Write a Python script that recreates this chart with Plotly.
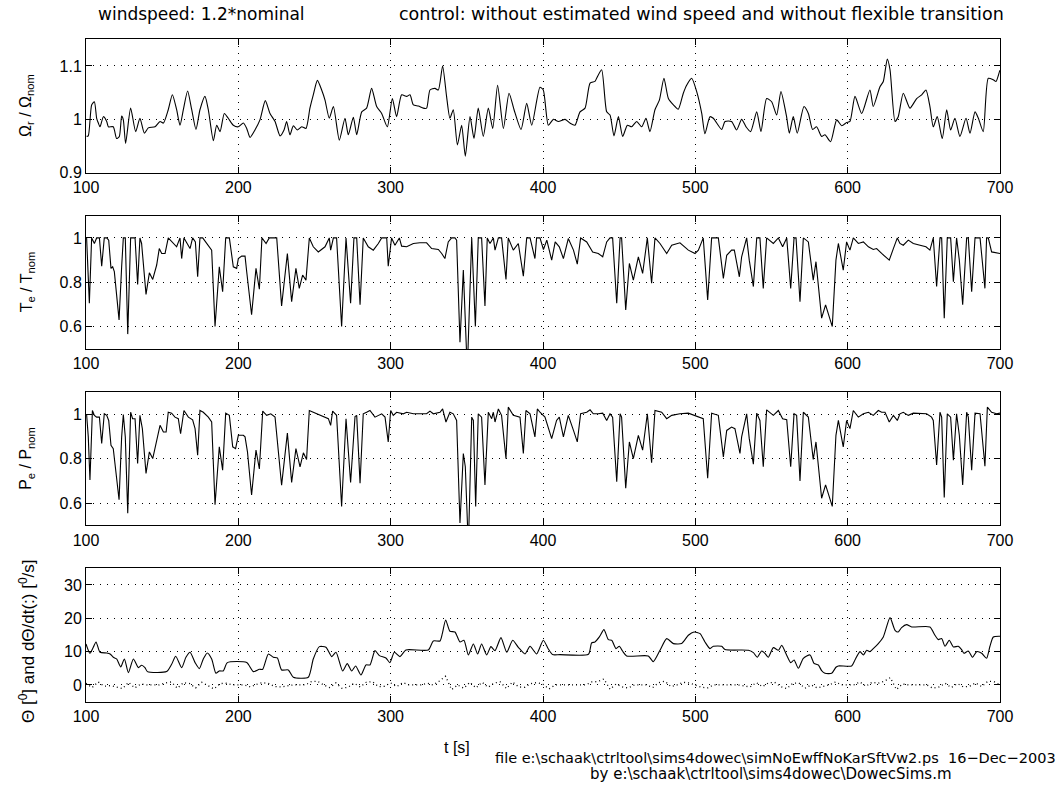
import numpy as np
import plotly.graph_objects as go

# ---------------------------------------------------------------- data
time_ticks = [100, 200, 300, 400, 500, 600, 700]

# rotor speed  Omega_r / Omega_nom
t_omega = [100.4, 101.5, 103.7, 105.5, 107.0, 108.1, 109.2, 111.4, 113.6, 114.7, 117.9, 120.1,
           121.9, 123.4, 124.5, 126.0, 129.3, 132.6, 135.4, 138.3, 140.9, 145.3, 148.6, 150.8,
           154.0, 156.7, 159.5, 161.7, 163.9, 166.7, 169.4, 172.2, 174.8, 178.1, 180.3, 183.6,
           185.8, 188.0, 190.8, 193.4, 196.7, 200.0, 203.3, 205.5, 207.7, 210.9, 214.2, 217.7,
           220.8, 224.1, 227.4, 230.0, 231.7, 233.9, 236.1, 238.7, 241.6, 244.4, 247.0, 249.2,
           251.9, 254.7, 256.9, 259.7, 262.4, 266.3, 270.0, 272.2, 275.5, 277.7, 281.0, 284.2,
           287.5, 290.8, 294.1, 297.8, 301.1, 303.9, 307.2, 310.5, 312.7, 314.9, 318.2, 321.4,
           323.6, 325.8, 329.1, 331.3, 334.1, 336.7, 338.9, 341.1, 343.8, 346.6, 349.0, 352.1,
           354.7, 357.5, 360.8, 364.1, 367.0, 370.2, 374.0, 377.7, 381.0, 385.6, 389.3, 392.6,
           398.0, 400.2, 403.5, 406.8, 410.1, 414.5, 417.7, 421.0, 424.3, 427.6, 430.9, 434.1,
           435.2, 438.5, 441.8, 444.0, 446.6, 449.5, 452.3, 455.4, 458.2, 461.5, 464.8, 467.6,
           470.2, 473.5, 476.4, 479.4, 482.3, 485.6, 488.8, 492.1, 494.3, 497.6, 500.9, 504.2,
           506.3, 509.6, 511.8, 517.3, 519.5, 523.8, 527.1, 530.4, 533.3, 536.3, 540.3, 543.1,
           546.8, 550.1, 553.4, 556.2, 559.9, 561.7, 564.3, 566.9, 571.3, 574.2, 577.0, 579.6,
           582.9, 585.1, 588.8, 592.8, 596.1, 599.3, 601.5, 604.8, 609.2, 614.6, 616.8, 621.2,
           623.4, 626.0, 627.8, 631.1, 633.2, 636.5, 640.9, 645.3, 648.6, 651.4, 654.0, 656.2,
           658.8, 662.1, 665.0, 667.6, 670.4, 673.7, 677.7, 680.3, 683.6, 685.8, 689.0, 692.3,
           695.6, 697.4, 699.6, 700.0]
omega_r = [0.968, 0.969, 1.027, 1.033, 1.002, 0.993, 0.986, 1.005, 0.996, 0.986, 0.986, 0.964,
           0.968, 1.006, 0.999, 0.955, 1.021, 0.977, 1.002, 0.974, 0.984, 0.986, 0.996, 0.993,
           1.018, 1.046, 1.018, 0.989, 1.018, 1.053, 1.018, 0.981, 1.018, 1.043, 1.018, 0.960,
           0.989, 0.977, 1.011, 1.002, 0.989, 0.986, 0.993, 0.983, 0.966, 0.980, 0.999, 1.035,
           1.011, 0.996, 0.969, 0.980, 0.996, 0.971, 0.988, 0.980, 0.986, 0.983, 1.021, 1.046,
           1.073, 1.055, 1.036, 1.002, 1.024, 0.961, 1.002, 0.971, 1.004, 0.971, 1.014, 1.021,
           1.058, 1.024, 1.011, 0.986, 1.039, 1.005, 1.046, 1.043, 1.046, 1.027, 1.025, 1.021,
           1.021, 1.055, 1.058, 1.055, 1.100, 1.043, 1.002, 1.018, 0.952, 0.989, 0.931, 1.005,
           0.964, 1.021, 0.968, 1.021, 0.983, 1.064, 0.983, 1.049, 1.018, 0.981, 1.030, 0.989,
           1.060, 1.055, 0.989, 1.000, 0.996, 1.000, 0.993, 0.989, 1.014, 1.021, 1.068, 1.071,
           1.077, 1.093, 1.014, 1.008, 0.969, 1.005, 0.968, 0.989, 0.986, 0.996, 0.986, 1.002,
           0.977, 1.018, 1.036, 1.077, 1.039, 1.027, 1.019, 1.049, 1.064, 1.077, 1.052, 1.011,
           0.973, 1.005, 1.002, 0.981, 0.996, 0.996, 0.980, 1.000, 0.986, 0.977, 1.014, 0.977,
           1.039, 1.033, 1.008, 1.052, 1.005, 0.974, 1.005, 0.974, 1.024, 1.011, 0.981, 0.986,
           0.968, 0.971, 0.958, 0.999, 0.988, 0.994, 0.996, 1.043, 1.011, 1.055, 1.024, 1.061,
           1.071, 1.113, 1.093, 0.996, 1.005, 1.049, 1.021, 1.039, 1.046, 1.055, 1.024, 0.986,
           1.005, 0.964, 1.018, 0.980, 1.002, 0.968, 1.002, 0.974, 1.014, 1.002, 0.977, 1.077,
           1.074, 1.071, 1.089, 1.092]

# generator torque  T_e / T_nom
t_torque = [100.4, 102.2, 103.7, 105.5, 107.0, 108.8, 110.3, 112.0, 113.6, 114.9, 116.4, 117.5,
            118.6, 121.7, 123.4, 124.5, 125.8, 127.4, 129.3, 130.6, 132.2, 133.9, 135.4, 136.5,
            139.4, 141.6, 143.8, 146.4, 148.1, 149.7, 151.9, 154.0, 157.3, 159.5, 161.7, 162.8,
            164.3, 168.3, 170.0, 171.8, 173.3, 174.8, 176.6, 179.2, 182.5, 184.7, 187.5, 189.7,
            191.7, 194.1, 196.7, 198.9, 200.0, 202.2, 204.4, 205.5, 208.7, 211.6, 213.8, 215.5,
            218.2, 220.3, 225.2, 228.4, 232.2, 235.0, 237.8, 240.0, 242.2, 244.4, 246.6, 249.2,
            252.5, 256.9, 259.7, 260.6, 262.4, 264.5, 267.8, 270.7, 273.7, 275.9, 277.7, 279.9,
            282.0, 285.3, 288.6, 291.9, 294.1, 297.4, 298.4, 300.6, 302.8, 305.7, 307.2, 310.5,
            314.9, 319.2, 323.6, 326.9, 331.3, 333.5, 335.6, 337.8, 340.0, 342.2, 343.3, 345.5,
            347.7, 350.3, 353.2, 355.6, 357.5, 359.7, 361.9, 363.4, 365.2, 367.4, 368.5, 370.7,
            372.8, 375.7, 377.2, 380.5, 383.8, 387.1, 389.3, 391.5, 394.7, 395.8, 398.0, 400.3,
            402.5, 405.7, 408.0, 410.7, 413.4, 416.6, 420.0, 422.5, 424.7, 428.7, 432.6, 436.3,
            439.2, 441.8, 444.0, 445.7, 448.4, 450.6, 451.6, 454.3, 456.7, 459.3, 462.6, 465.4,
            468.5, 471.3, 473.5, 476.8, 481.2, 484.5, 489.9, 495.4, 499.8, 502.0, 505.2, 508.1,
            510.7, 515.1, 518.4, 520.6, 523.8, 525.6, 528.9, 530.4, 533.7, 535.4, 538.1, 540.3,
            542.4, 544.6, 546.8, 551.2, 554.5, 557.3, 560.0, 562.6, 564.8, 566.1, 568.7, 570.9,
            574.2, 577.4, 579.2, 582.9, 585.5, 589.9, 592.3, 593.9, 597.1, 599.3, 601.5, 603.7,
            607.0, 610.3, 613.6, 616.8, 619.0, 622.3, 624.5, 627.3, 630.0, 632.6, 634.3, 636.5,
            639.8, 643.1, 647.5, 651.4, 654.0, 656.2, 658.4, 660.6, 661.7, 663.4, 665.4, 667.6,
            669.4, 671.5, 673.3, 675.5, 678.1, 679.2, 681.4, 683.6, 686.9, 690.1, 691.2, 692.3,
            694.5, 698.9, 700.0]
torque_e = [1.000, 0.706, 1.000, 0.975, 1.000, 1.000, 0.873, 1.000, 1.000, 0.990, 0.863, 0.870,
            0.848, 0.631, 0.870, 1.000, 1.000, 0.567, 1.000, 1.000, 1.000, 0.791, 1.000, 0.975,
            0.746, 0.843, 0.813, 0.878, 0.952, 0.930, 0.930, 1.000, 0.975, 0.960, 1.000, 0.907,
            1.000, 0.952, 1.000, 0.982, 0.825, 1.000, 1.000, 0.975, 0.945, 0.601, 0.870, 0.758,
            1.000, 1.000, 0.870, 0.863, 0.907, 0.918, 0.918, 0.848, 0.654, 0.863, 0.769, 1.000,
            0.975, 1.000, 1.000, 0.694, 0.930, 0.713, 0.863, 0.773, 0.833, 0.810, 1.000, 0.960,
            0.937, 0.960, 1.000, 0.945, 1.000, 1.000, 0.601, 1.000, 0.706, 1.000, 1.000, 0.699,
            1.000, 0.960, 0.945, 0.975, 1.000, 1.000, 0.873, 1.000, 0.967, 1.000, 0.963, 0.960,
            0.975, 0.978, 0.978, 0.952, 0.948, 0.930, 0.907, 0.982, 1.000, 1.000, 0.990, 0.530,
            0.855, 0.400, 1.000, 0.601, 1.000, 1.000, 0.694, 1.000, 0.975, 1.000, 0.945, 1.000,
            1.000, 0.813, 1.000, 0.945, 0.975, 0.828, 1.000, 1.000, 0.907, 1.000, 1.000, 0.948,
            0.990, 0.900, 0.982, 0.960, 0.907, 0.997, 0.945, 0.882, 1.000, 0.982, 0.937, 0.930,
            0.915, 0.982, 1.000, 1.000, 0.706, 1.000, 1.000, 0.676, 0.885, 0.810, 0.915, 0.840,
            1.000, 0.796, 1.000, 0.975, 0.930, 0.967, 0.978, 0.945, 0.930, 0.945, 1.000, 0.721,
            1.000, 1.000, 0.818, 0.922, 0.945, 0.945, 0.825, 0.915, 1.000, 0.900, 0.781, 1.000,
            1.000, 0.773, 1.000, 0.975, 1.000, 0.960, 1.000, 0.773, 1.000, 1.000, 0.713, 1.000,
            0.982, 0.810, 0.893, 0.639, 0.699, 0.601, 0.900, 0.975, 0.855, 0.982, 0.945, 1.000,
            0.975, 0.982, 0.960, 0.948, 0.952, 0.930, 0.915, 0.900, 0.952, 1.000, 0.975, 0.967,
            0.990, 0.975, 0.967, 0.960, 0.945, 1.000, 0.781, 1.000, 1.000, 0.639, 1.000, 1.000,
            0.803, 1.000, 0.900, 0.699, 1.000, 1.000, 0.758, 1.000, 1.000, 0.773, 1.000, 1.000,
            0.937, 0.930, 0.930]

# electrical power  P_e / P_nom
t_power = [100.4, 101.5, 102.6, 104.2, 105.5, 107.0, 108.8, 110.3, 112.0, 113.6, 114.9, 116.4,
           117.9, 119.5, 121.7, 123.4, 124.5, 125.8, 127.4, 129.3, 130.6, 132.2, 133.9, 135.4,
           137.0, 139.4, 141.6, 143.8, 146.4, 148.6, 150.8, 152.6, 154.0, 156.2, 158.4, 160.6,
           162.1, 164.3, 167.2, 170.0, 171.6, 173.3, 174.8, 177.0, 180.3, 182.5, 184.7, 187.5,
           189.7, 191.7, 194.1, 196.3, 198.2, 200.0, 203.3, 204.4, 206.0, 208.7, 211.6, 213.8,
           216.0, 218.6, 221.3, 224.1, 228.4, 232.2, 235.0, 237.8, 240.5, 242.7, 244.8, 246.6,
           249.2, 252.5, 255.8, 259.1, 260.6, 261.9, 264.5, 267.8, 270.7, 273.7, 276.6, 277.7,
           279.9, 282.0, 284.2, 286.4, 289.7, 291.9, 294.1, 296.3, 298.4, 300.0, 301.7, 303.9,
           306.1, 308.3, 310.5, 314.9, 319.2, 323.6, 325.8, 328.0, 332.4, 334.1, 336.3, 338.9,
           341.1, 343.3, 345.5, 347.7, 349.0, 351.0, 353.2, 354.3, 355.8, 357.5, 359.7, 361.9,
           364.1, 366.3, 367.4, 368.5, 370.7, 372.8, 375.7, 377.2, 380.5, 384.9, 387.1, 388.8,
           391.5, 394.7, 396.3, 398.0, 401.3, 405.7, 408.9, 410.7, 413.4, 416.6, 420.0, 422.5,
           424.7, 428.7, 430.9, 433.0, 436.3, 439.2, 441.8, 444.0, 445.7, 448.4, 450.6, 451.6,
           454.3, 456.7, 459.3, 462.6, 465.4, 468.5, 471.3, 473.5, 477.9, 481.2, 484.5, 489.9,
           495.4, 499.8, 505.2, 508.1, 510.7, 515.1, 518.4, 520.6, 523.8, 526.0, 529.3, 530.4,
           533.7, 535.4, 538.1, 540.3, 542.4, 544.6, 546.8, 551.2, 554.5, 557.3, 560.0, 562.6,
           564.8, 566.5, 568.7, 570.9, 574.2, 577.4, 579.2, 582.9, 585.5, 589.9, 592.3, 593.9,
           597.1, 599.3, 601.5, 603.7, 607.0, 610.3, 613.6, 616.8, 620.1, 622.3, 624.5, 627.3,
           630.0, 632.6, 634.3, 636.5, 639.8, 643.1, 647.5, 651.8, 655.1, 656.2, 658.4, 660.6,
           661.7, 663.4, 665.4, 667.6, 669.4, 671.5, 673.3, 675.5, 678.1, 679.2, 681.4, 683.6,
           686.9, 690.1, 691.7, 694.5, 697.8, 699.6, 700.0]
power_e = [1.000, 0.899, 0.704, 1.018, 0.996, 0.988, 0.988, 0.869, 1.003, 0.996, 0.973, 0.861,
           0.846, 0.749, 0.615, 0.899, 1.000, 0.899, 0.555, 1.010, 0.981, 0.981, 0.779, 0.996,
           0.936, 0.734, 0.831, 0.801, 0.876, 0.951, 0.921, 0.921, 1.010, 1.006, 0.988, 0.981,
           0.913, 1.018, 0.988, 0.976, 0.936, 0.816, 1.018, 1.010, 0.988, 0.966, 0.593, 0.854,
           0.749, 1.006, 0.996, 0.854, 0.846, 0.906, 0.906, 0.899, 0.831, 0.637, 0.839, 0.754,
           1.015, 0.996, 1.003, 0.988, 0.681, 0.916, 0.693, 0.846, 0.764, 0.827, 0.797, 1.018,
           1.010, 1.000, 0.991, 0.981, 0.951, 1.015, 0.996, 0.585, 0.981, 0.693, 0.991, 0.996,
           0.690, 1.003, 1.010, 1.018, 0.988, 0.996, 1.003, 0.988, 0.876, 1.018, 0.996, 1.010,
           1.006, 1.003, 1.010, 1.003, 1.003, 1.003, 1.015, 1.003, 1.010, 1.025, 0.966, 1.010,
           1.003, 0.973, 0.510, 0.824, 0.764, 0.400, 0.988, 0.973, 0.585, 1.003, 0.988, 0.682,
           1.010, 0.981, 1.010, 0.966, 1.025, 0.996, 0.800, 1.033, 0.996, 0.988, 0.824, 1.018,
           1.003, 0.899, 1.025, 1.010, 0.988, 0.891, 0.973, 0.988, 0.899, 0.996, 0.928, 0.876,
           1.003, 1.010, 1.021, 1.003, 1.003, 1.006, 0.973, 1.003, 0.988, 0.697, 1.003, 0.988,
           0.667, 0.876, 0.801, 0.906, 0.839, 1.003, 0.782, 1.018, 1.010, 0.981, 0.996, 1.003,
           1.006, 0.996, 0.981, 0.712, 1.006, 0.996, 0.809, 0.928, 0.943, 0.936, 0.824, 0.899,
           1.003, 0.891, 0.776, 1.006, 0.973, 0.764, 1.021, 0.996, 1.018, 0.981, 0.976, 0.764,
           1.003, 0.996, 0.700, 1.010, 0.988, 0.797, 0.876, 0.622, 0.682, 0.585, 0.906, 0.973,
           0.854, 0.973, 0.936, 1.018, 0.988, 1.003, 1.010, 0.996, 1.018, 1.010, 1.010, 0.966,
           0.996, 0.973, 1.003, 1.010, 0.996, 1.006, 1.006, 1.003, 0.988, 0.973, 0.772, 1.010,
           0.988, 0.625, 1.003, 0.988, 0.794, 1.003, 0.906, 0.682, 1.010, 0.988, 0.749, 1.006,
           1.003, 0.767, 1.033, 1.010, 1.003, 1.006, 1.006]

# pitch angle  Theta [deg]
t_pitch = [100.0, 102.6, 104.8, 106.6, 109.2, 113.6, 115.8, 117.9, 120.1, 122.8, 125.2, 127.8,
           131.1, 134.4, 136.5, 138.7, 140.3, 152.9, 156.2, 158.9, 162.8, 165.6, 168.3, 171.6,
           174.4, 177.0, 179.6, 182.5, 185.3, 187.5, 190.1, 192.8, 205.5, 209.8, 213.8, 216.0,
           219.7, 223.0, 225.6, 228.4, 232.8, 236.1, 245.9, 249.2, 253.2, 257.5, 261.3, 264.1,
           268.5, 271.5, 274.4, 277.0, 280.5, 283.8, 286.4, 289.7, 292.6, 296.9, 299.5, 302.4,
           306.1, 310.0, 324.7, 328.0, 332.4, 333.9, 336.1, 338.9, 342.2, 345.5, 348.1, 351.0,
           354.3, 357.1, 359.7, 363.0, 365.8, 368.5, 372.4, 376.2, 380.1, 383.8, 388.2, 391.5,
           395.8, 400.2, 403.5, 406.3, 411.1, 429.8, 431.9, 434.1, 437.0, 440.0, 442.9, 445.1,
           447.9, 450.1, 452.3, 454.9, 469.1, 472.4, 476.8, 481.2, 485.6, 491.0, 495.4, 499.1,
           503.1, 506.3, 509.6, 511.8, 517.3, 519.5, 534.8, 538.1, 540.7, 543.5, 545.7, 547.9,
           551.2, 554.5, 556.7, 559.9, 562.6, 564.8, 567.6, 570.9, 575.3, 577.9, 580.7, 582.9,
           585.1, 589.5, 592.3, 593.9, 602.6, 604.8, 608.1, 610.3, 612.5, 614.6, 616.8, 620.1,
           623.4, 627.8, 631.1, 633.2, 635.4, 638.7, 642.0, 654.0, 657.3, 659.5, 661.7, 663.9,
           666.7, 669.4, 672.6, 674.8, 676.3, 679.2, 682.0, 684.7, 688.0, 691.2, 693.4, 695.6,
           699.6, 700.0]
pitch = [12.3, 9.5, 11.3, 12.9, 9.8, 9.6, 9.3, 8.3, 7.8, 5.4, 7.8, 3.7,
         7.8, 5.2, 5.9, 5.2, 4.0, 4.0, 6.2, 8.6, 5.2, 8.3, 9.8, 6.7,
         4.9, 7.8, 9.6, 7.8, 3.5, 4.2, 4.2, 6.7, 6.7, 4.0, 4.7, 4.7,
         9.3, 8.3, 8.1, 4.5, 4.5, 2.3, 2.3, 7.8, 11.5, 11.3, 8.5, 9.8,
         4.2, 6.4, 4.2, 5.7, 3.0, 6.0, 6.0, 10.3, 8.8, 8.1, 6.7, 9.8,
         8.5, 10.5, 10.5, 13.2, 13.2, 15.4, 19.5, 16.1, 15.9, 12.9, 13.4, 9.0,
         12.3, 9.3, 12.3, 9.0, 11.5, 10.3, 14.2, 9.8, 13.4, 11.3, 9.3, 11.6,
         9.3, 13.4, 10.8, 9.1, 9.1, 9.2, 12.6, 12.9, 14.4, 16.6, 13.6, 13.4,
         10.9, 11.6, 10.1, 8.7, 8.7, 7.0, 10.4, 13.9, 12.4, 12.4, 14.9, 15.9,
         15.4, 12.9, 10.9, 11.6, 11.6, 10.6, 10.4, 9.7, 8.3, 10.2, 9.5, 8.3,
         11.2, 10.4, 11.9, 9.0, 6.7, 7.5, 5.0, 8.0, 9.0, 6.5, 6.0, 4.3,
         3.5, 3.5, 5.3, 5.7, 5.7, 7.5, 10.0, 9.0, 10.4, 10.0, 10.9, 12.4,
         14.4, 20.2, 16.4, 15.9, 17.2, 18.1, 17.4, 17.4, 14.9, 13.6, 13.9, 11.6,
         13.4, 11.4, 11.6, 10.6, 9.5, 10.2, 8.3, 10.0, 9.5, 8.0, 11.6, 14.4,
         14.6, 14.6]

# pitch rate  dTheta/dt [deg/s], sampled every 4 s from 100 s to 700 s
t_rate = list(range(100, 701, 4))
pitch_rate = [0.5, -0.8, 0.9, -0.4, -0.2, -0.6, -1.1, 0.8, -0.9, 0.3,
              0.0, 0.0, 0.0, 0.6, 0.9, -1.0, 0.7, 0.4, -0.9, 0.8,
              -0.3, -1.2, 0.4, 0.5, 0.0, 0.0, 0.0, -0.6, 0.2, 0.7,
              0.4, -0.5, -0.6, -0.3, 0.0, 0.0, 0.0, 1.0, 1.1, 0.0,
              -0.8, 0.6, -1.0, -0.7, 0.5, -0.6, 0.8, 1.0, -0.5, -0.4,
              0.6, -0.5, 0.7, 0.0, 0.0, 0.0, 0.5, 0.0, 1.2, 2.6,
              -1.4, 0.0, -1.0, 0.8, -0.9, 0.8, -0.7, 0.6, 0.9, -1.1,
              0.9, -0.6, -0.7, 0.4, 0.7, 0.2, -1.2, 0.0, 0.0, 0.0,
              0.0, 0.0, 0.0, 0.9, 1.0, 1.8, -1.3, 0.3, -0.6, -0.9,
              0.0, 0.0, 0.0, -0.8, 0.7, 1.1, -0.5, 0.0, 0.8, 0.6,
              0.0, -0.7, -0.9, 0.0, 0.0, 0.0, 0.0, 0.0, -0.3, -0.6,
              0.7, -0.5, 0.6, 0.8, -0.5, -1.1, 0.5, 0.6, -1.0, 0.0,
              -0.9, -0.5, 0.0, 0.9, 0.0, 0.0, 0.0, 0.9, -0.4, 0.8,
              0.5, 1.1, 2.2, -1.4, 0.3, 0.0, 0.0, 0.0, 0.0, -1.0,
              -0.6, 0.5, -0.8, 0.4, -0.6, -0.4, 0.6, -0.5, 1.1, 1.0,
              0.0]
assert len(t_rate) == len(pitch_rate)

y_ranges = [[0.9, 1.15], [0.5, 1.1], [0.5, 1.1], [-5, 35]]
y_ticks = [[0.9, 1.0, 1.1], [0.6, 0.8, 1.0], [0.6, 0.8, 1.0], [0, 10, 20, 30]]
y_ticktext = [["0.9", "1", "1.1"], ["0.6", "0.8", "1"], ["0.6", "0.8", "1"],
              ["0", "10", "20", "30"]]
y_titles = ["Ω<sub>r</sub> / Ω<sub>nom</sub>",
            "T<sub>e</sub> / T<sub>nom</sub>",
            "P<sub>e</sub> / P<sub>nom</sub>",
            "Θ [<sup>0</sup>] and dΘ/dt(:) [<sup>0</sup>/s]"]

# ---------------------------------------------------------------- layout
W, H = 1061, 787
FONT = "Liberation Sans, Arial, Helvetica, sans-serif"
WIDE = "DejaVu Sans, Verdana, sans-serif"
panel_px = [(39.3, 172.7), (215.7, 349.0), (392.3, 525.3), (568.3, 701.6)]
x_px = (86, 1000)


def px(x):
    return x / W


def py(y):
    return 1 - y / H


fig = go.Figure()
smooth = dict(color="black", width=1.1, shape="spline", smoothing=0.6)
sharp = dict(color="black", width=1.1)
series = [(t_omega, omega_r, smooth), (t_torque, torque_e, sharp),
          (t_power, power_e, sharp), (t_pitch, pitch, smooth)]
for i, (tx, vy, ln) in enumerate(series):
    sfx = "" if i == 0 else str(i + 1)
    fig.add_trace(go.Scatter(x=tx, y=vy, mode="lines", line=ln,
                             xaxis="x" + sfx, yaxis="y" + sfx, showlegend=False,
                             hoverinfo="skip"))
fig.add_trace(go.Scatter(x=t_rate, y=pitch_rate, mode="lines",
                         line=dict(color="black", width=1.3, dash="1px,3px"),
                         xaxis="x4", yaxis="y4", showlegend=False, hoverinfo="skip"))

axis_common = dict(showline=True, linecolor="black", linewidth=1, mirror="ticks",
                   ticks="inside", ticklen=6, tickcolor="black", tickwidth=1,
                   showgrid=True, gridcolor="black", gridwidth=1, griddash="1px,6px",
                   zeroline=False, automargin=False,
                   tickfont=dict(family=FONT, size=16, color="black"))

for i in range(4):
    sfx = "" if i == 0 else str(i + 1)
    top, bot = panel_px[i]
    fig.layout["xaxis" + sfx] = dict(axis_common, domain=[px(x_px[0]), px(x_px[1])],
                                     range=[100, 700], tickvals=time_ticks,
                                     anchor="y" + sfx)
    fig.layout["yaxis" + sfx] = dict(axis_common, domain=[py(bot), py(top)],
                                     range=y_ranges[i], tickvals=y_ticks[i],
                                     ticktext=y_ticktext[i], anchor="x" + sfx)

annotations = []
for i in range(4):
    top, bot = panel_px[i]
    cy = (top + bot) / 2 + (7 if i == 3 else 0)
    annotations.append(dict(text=y_titles[i], x=px(27), y=py(cy), xref="paper", yref="paper",
                            textangle=-90, showarrow=False, xanchor="center", yanchor="middle",
                            font=dict(family=FONT, size=17 if i == 3 else 16, color="black")))

annotations += [
    dict(text="windspeed: 1.2*nominal", x=px(96), y=py(14), xanchor="left", yanchor="middle",
         xref="paper", yref="paper", showarrow=False,
         font=dict(family=WIDE, size=17, color="black")),
    dict(text="control: without estimated wind speed and without flexible transition",
         x=px(1006), y=py(14), xanchor="right", yanchor="middle",
         xref="paper", yref="paper", showarrow=False,
         font=dict(family=WIDE, size=17.5, color="black")),
    dict(text="t [s]", x=px(457), y=py(747), xanchor="center", yanchor="middle",
         xref="paper", yref="paper", showarrow=False,
         font=dict(family=FONT, size=16, color="black")),
    dict(text=r"file e:\schaak\ctrltool\sims4dowec\simNoEwffNoKarSftVw2.ps&nbsp;&nbsp;16−Dec−2003",
         x=px(1058), y=py(758), xanchor="right", yanchor="middle",
         xref="paper", yref="paper", showarrow=False,
         font=dict(family=WIDE, size=14.5, color="black")),
    dict(text=r"by e:\schaak\ctrltool\sims4dowec\DowecSims.m",
         x=px(771), y=py(774), xanchor="center", yanchor="middle",
         xref="paper", yref="paper", showarrow=False,
         font=dict(family=WIDE, size=15, color="black")),
]

fig.update_layout(width=W, height=H, margin=dict(l=0, r=0, t=0, b=0),
                  paper_bgcolor="white", plot_bgcolor="white",
                  font=dict(family=FONT, color="black"),
                  annotations=annotations, showlegend=False)

fig.write_html("out.html", config={"displayModeBar": False})
